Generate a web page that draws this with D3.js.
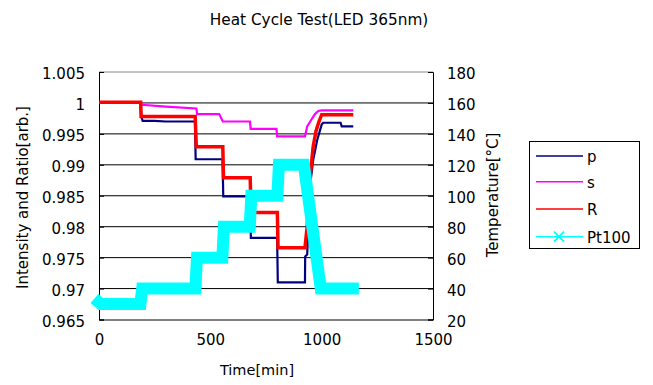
<!DOCTYPE html>
<html>
<head>
<meta charset="utf-8">
<script src="https://cdn.jsdelivr.net/npm/d3@7"></script>
<style>
  html, body { margin: 0; padding: 0; background: #fff; }
  svg { display: block; font-family: "DejaVu Sans", sans-serif; }
</style>
</head>
<body>
<svg id="chart" width="653" height="385"></svg>
<script>
// ---- data (time in min) ----
const pTime = [0, 187, 190, 196, 250, 300, 380, 431, 434, 555, 558, 678, 682, 800, 803, 925, 926, 935, 945, 952, 962, 980, 1000, 1007, 1085, 1090, 1142];
const pVals = [1.0000, 1.0000, 0.9978, 0.9971, 0.9971, 0.9970, 0.9970, 0.9970, 0.9909, 0.9909, 0.9849, 0.9849, 0.9782, 0.9782, 0.9710, 0.9710, 0.9752, 0.9755, 0.9845, 0.9879, 0.9908, 0.9940, 0.9965, 0.9968, 0.9968, 0.9962, 0.9962];

const sTime = [0, 188, 193, 300, 437, 441, 540, 556, 678, 681, 797, 800, 925, 935, 952, 970, 985, 1000, 1142];
const sVals = [1.0000, 1.0000, 0.9997, 0.9994, 0.9991, 0.9982, 0.9982, 0.9970, 0.9970, 0.9958, 0.9958, 0.9946, 0.9946, 0.9962, 0.9972, 0.9982, 0.9987, 0.9988, 0.9988];

const rTime = [0, 187, 189, 432, 437, 556, 559, 679, 683, 801, 804, 925, 935, 948, 955, 962, 975, 988, 1000, 1142];
const rVals = [1.0001, 1.0001, 0.9978, 0.9978, 0.9929, 0.9929, 0.9879, 0.9879, 0.9823, 0.9823, 0.9766, 0.9766, 0.9800, 0.9880, 0.9905, 0.9930, 0.9955, 0.9970, 0.9981, 0.9981];

const tTime = [0, 8, 186, 194, 433, 440, 554, 561, 677, 684, 801, 808, 920, 996, 1140];
const tVals = [31, 30, 30, 40, 40, 60, 60, 80, 80, 100, 100, 120, 120, 40, 40];

const xTicks = [0, 500, 1000, 1500];
const leftTicks = [0.965, 0.97, 0.975, 0.98, 0.985, 0.99, 0.995, 1.0, 1.005];
const rightTicks = [20, 40, 60, 80, 100, 120, 140, 160, 180];

const seriesNames = ["p", "s", "R", "Pt100"];
const seriesColors = ["#000080", "#FF00FF", "#FF0000", "#00FFFF"];

// ---- layout ----
const svg = d3.select("#chart");
const x = d3.scaleLinear().domain([0, 1500]).range([99, 433]);
const yL = d3.scaleLinear().domain([0.965, 1.005]).range([319.5, 72]);
const yR = d3.scaleLinear().domain([20, 180]).range([319.5, 72]);

// title
svg.append("text").attr("x", 319).attr("y", 25).attr("text-anchor", "middle")
  .attr("font-size", "15.3px").attr("fill", "#000").text("Heat Cycle Test(LED 365nm)");

// gridlines
svg.append("g").selectAll("line").data(leftTicks.filter(d => d > 0.966 && d < 1.004)).join("line")
  .attr("x1", x(0)).attr("x2", x(1500))
  .attr("y1", d => yL(d)).attr("y2", d => yL(d))
  .attr("stroke", "#000").attr("stroke-width", 1);
// top border
svg.append("line").attr("x1", x(0)).attr("x2", x(1500)).attr("y1", yL(1.005)).attr("y2", yL(1.005))
  .attr("stroke", "#888").attr("stroke-width", 1);

// axes
const gx = svg.append("g").attr("transform", `translate(0,${yL(0.965)})`)
  .call(d3.axisBottom(x).tickValues(xTicks).tickSize(0).tickPadding(15).tickFormat(d3.format("d")));
gx.select(".domain").attr("stroke", "#000");
gx.selectAll("text").attr("font-size", "15px").attr("fill", "#000").attr("font-family", "DejaVu Sans");

const gl = svg.append("g").attr("transform", `translate(${x(0)},0)`)
  .call(d3.axisLeft(yL).tickValues(leftTicks).tickSize(-5).tickPadding(14).tickFormat(d => String(+d.toFixed(3))));
gl.select(".domain").attr("stroke", "#000");
gl.selectAll(".tick line").attr("stroke", "#000");
gl.selectAll("text").attr("font-size", "15px").attr("fill", "#000").attr("font-family", "DejaVu Sans").attr("dy", "0.45em");

const gr = svg.append("g").attr("transform", `translate(${x(1500)},0)`)
  .call(d3.axisRight(yR).tickValues(rightTicks).tickSize(-5).tickPadding(14).tickFormat(d3.format("d")));
gr.select(".domain").attr("stroke", "#000");
gr.selectAll(".tick line").attr("stroke", "#000");
gr.selectAll("text").attr("font-size", "15px").attr("fill", "#000").attr("font-family", "DejaVu Sans").attr("dy", "0.45em");

// axis titles
svg.append("text").attr("x", 257).attr("y", 375).attr("text-anchor", "middle")
  .attr("font-size", "14.5px").text("Time[min]");
svg.append("text").attr("transform", "translate(28,197.5) rotate(-90)").attr("text-anchor", "middle")
  .attr("font-size", "15px").text("Intensity and Ratio[arb.]");
svg.append("text").attr("transform", "translate(498,195) rotate(-90)").attr("text-anchor", "middle")
  .attr("font-size", "15px").text("Temperature[°C]");

// series
const lineL = d3.line().x(d => x(d[0])).y(d => yL(d[1]));
const lineR = d3.line().x(d => x(d[0])).y(d => yR(d[1]));
const zip = (a, b) => a.map((t, i) => [t, b[i]]);

svg.append("path").datum(zip(pTime, pVals)).attr("d", lineL)
  .attr("fill", "none").attr("stroke", seriesColors[0]).attr("stroke-width", 2.2);
svg.append("path").datum(zip(sTime, sVals)).attr("d", lineL)
  .attr("fill", "none").attr("stroke", seriesColors[1]).attr("stroke-width", 2.2);
svg.append("path").datum(zip(rTime, rVals)).attr("d", lineL)
  .attr("fill", "none").attr("stroke", seriesColors[2]).attr("stroke-width", 3.5);
svg.append("path").datum(zip(tTime, tVals)).attr("d", lineR)
  .attr("fill", "none").attr("stroke", seriesColors[3]).attr("stroke-width", 12)
  .attr("stroke-linejoin", "miter").attr("stroke-linecap", "square");

// legend
const lg = svg.append("g");
lg.append("rect").attr("x", 529.5).attr("y", 141.5).attr("width", 110).attr("height", 107)
  .attr("fill", "#fff").attr("stroke", "#000").attr("stroke-width", 1);
const legY = [156, 181.7, 209, 236.7];
seriesNames.forEach((n, i) => {
  lg.append("line").attr("x1", 536).attr("x2", 583).attr("y1", legY[i]).attr("y2", legY[i])
    .attr("stroke", seriesColors[i]).attr("stroke-width", 1.5);
  lg.append("text").attr("x", 587).attr("y", legY[i] + 1).attr("dy", "0.35em")
    .attr("font-size", "15px").attr("fill", "#000").text(n);
});
// Pt100 marker
const mx = 559, my = legY[3], ms = 5;
lg.append("path").attr("d", `M${mx - ms},${my - ms}L${mx + ms},${my + ms}M${mx - ms},${my + ms}L${mx + ms},${my - ms}`)
  .attr("stroke", seriesColors[3]).attr("stroke-width", 1.8).attr("fill", "none");
</script>
</body>
</html>
